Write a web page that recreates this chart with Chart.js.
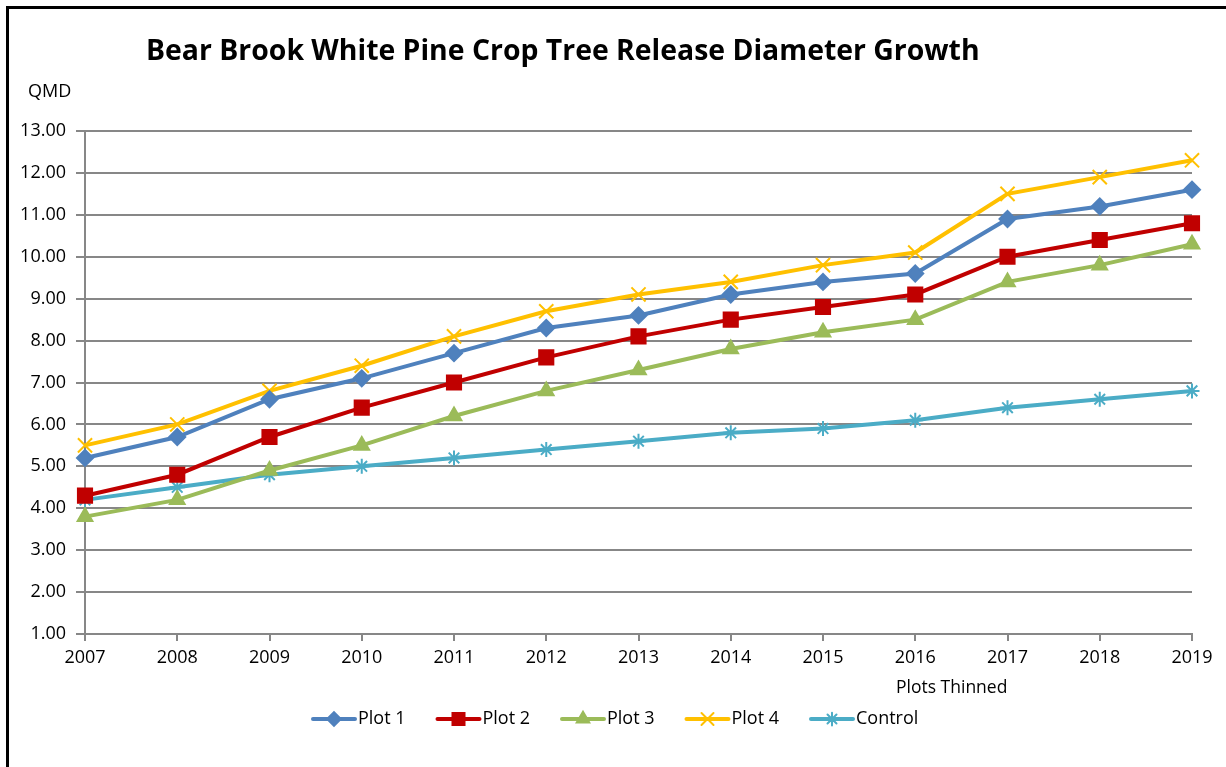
<!DOCTYPE html>
<html>
<head>
<meta charset="utf-8">
<script src="https://cdn.jsdelivr.net/npm/chart.js@4.4.1/dist/chart.umd.min.js"></script>
<style>
  html, body { margin: 0; padding: 0; background: #fff; }
  #wrap { position: relative; width: 1226px; height: 767px; }
</style>
</head>
<body>
<div id="wrap"><canvas id="qmdChart" width="1226" height="767"></canvas></div>
<script>
// chart data
const years = ['2007', '2008', '2009', '2010', '2011', '2012', '2013', '2014', '2015', '2016', '2017', '2018', '2019'];
const plot1 = [5.2, 5.7, 6.6, 7.1, 7.7, 8.3, 8.6, 9.1, 9.4, 9.6, 10.9, 11.2, 11.6];
const plot2 = [4.3, 4.8, 5.7, 6.4, 7.0, 7.6, 8.1, 8.5, 8.8, 9.1, 10.0, 10.4, 10.8];
const plot3 = [3.8, 4.2, 4.9, 5.5, 6.2, 6.8, 7.3, 7.8, 8.2, 8.5, 9.4, 9.8, 10.3];
const plot4 = [5.5, 6.0, 6.8, 7.4, 8.1, 8.7, 9.1, 9.4, 9.8, 10.1, 11.5, 11.9, 12.3];
const control = [4.2, 4.5, 4.8, 5.0, 5.2, 5.4, 5.6, 5.8, 5.9, 6.1, 6.4, 6.6, 6.8];

const FONT = '"Open Sans", "Liberation Sans", sans-serif';
const GRID = '#878787';

function series(label, values, color, pointStyle, radius) {
	return {
		label: label,
		data: values,
		borderColor: color,
		backgroundColor: color,
		borderWidth: 4,
		pointStyle: pointStyle,
		pointRadius: radius,
		pointHoverRadius: radius,
		pointBorderWidth: 2,
		tension: 0
	};
}

const datasets = [
	series('Plot 1', plot1, '#4F81BD', 'rectRot', 8),
	series('Plot 2', plot2, '#C00000', 'rect', 10),
	series('Plot 3', plot3, '#9BBB59', 'triangle', 8.5),
	series('Plot 4', plot4, '#FFC000', 'crossRot', 10),
	series('Control', control, '#4BACC6', 'star', 7.5)
];

// title, axis labels, frame and legend drawn by hand (Excel style layout)
const decor = {
	id: 'decor',
	beforeDraw(chart) {
		const ctx = chart.ctx;
		ctx.save();
		ctx.fillStyle = '#fff';
		ctx.fillRect(0, 0, chart.width, chart.height);
		ctx.strokeStyle = '#000';
		ctx.lineWidth = 3;
		ctx.beginPath();
		ctx.moveTo(7.5, chart.height);
		ctx.lineTo(7.5, 7.5);
		ctx.lineTo(chart.width, 7.5);
		ctx.stroke();
		ctx.restore();
	},
	afterDraw(chart) {
		const ctx = chart.ctx;
		ctx.save();
		ctx.fillStyle = '#000';
		ctx.textBaseline = 'middle';
		ctx.textAlign = 'left';
		ctx.font = 'bold 28.4px ' + FONT;
		ctx.fillText('Bear Brook White Pine Crop Tree Release Diameter Growth', 146, 52);
		ctx.font = '18px ' + FONT;
		ctx.fillText('QMD', 28, 92);
		ctx.font = '17.5px ' + FONT;
		ctx.fillText('Plots Thinned', 896, 688);

		// legend
		chart.data.datasets.forEach((ds, i) => {
			const x0 = 313 + i * 124.5;
			const y = 719;
			ctx.strokeStyle = ds.borderColor;
			ctx.lineWidth = 4;
			ctx.lineCap = 'round';
			ctx.beginPath();
			ctx.moveTo(x0, y);
			ctx.lineTo(x0 + 42, y);
			ctx.stroke();
			ctx.fillStyle = ds.backgroundColor;
			ctx.lineWidth = 2;
			Chart.helpers.drawPoint(ctx, {
				pointStyle: ds.pointStyle,
				radius: ds.pointRadius * 0.85,
				borderWidth: 2,
				rotation: 0
			}, x0 + 21, y);
			ctx.fillStyle = '#000';
			ctx.font = '18px ' + FONT;
			ctx.fillText(ds.label, x0 + 45, y);
		});
		ctx.restore();
	}
};

const config = {
	type: 'line',
	data: { labels: years, datasets: datasets },
	options: {
		responsive: false,
		animation: false,
		layout: { padding: { left: 0, top: 131, right: 34, bottom: 93 } },
		plugins: {
			legend: { display: false },
			title: { display: false },
			tooltip: { enabled: false }
		},
		scales: {
			x: {
				offset: false,
				afterFit(scale) { scale.height = 40; },
				grid: {
					drawOnChartArea: false,
					drawTicks: true,
					tickLength: 7,
					color: GRID,
					lineWidth: 2
				},
				border: { color: GRID, width: 2 },
				ticks: {
					color: '#000',
					padding: 6,
					maxRotation: 0,
					autoSkip: false,
					font: { family: FONT, size: 18 }
				}
			},
			y: {
				min: 1,
				max: 13,
				afterFit(scale) { scale.width = 85; },
				grid: {
					color: GRID,
					lineWidth: 2,
					tickLength: 9
				},
				border: { color: GRID, width: 2 },
				ticks: {
					stepSize: 1,
					color: '#000',
					padding: 10,
					font: { family: FONT, size: 18 },
					callback: v => v.toFixed(2)
				}
			}
		}
	},
	plugins: [decor]
};

const qmdChart = new Chart(document.getElementById('qmdChart'), config);
</script>
</body>
</html>
